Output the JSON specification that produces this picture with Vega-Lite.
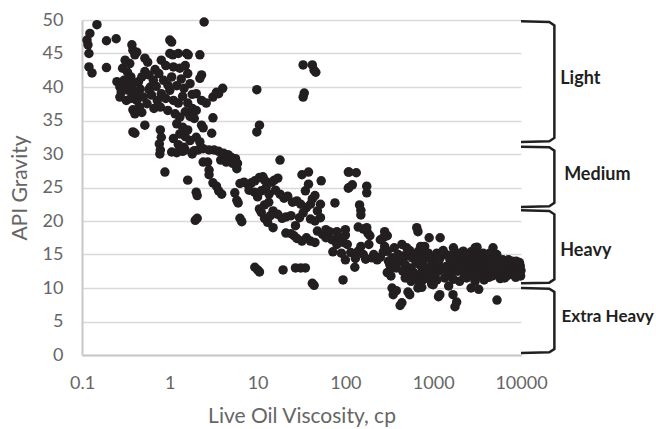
{
  "$schema": "https://vega.github.io/schema/vega-lite/v6.json",
  "width": 439,
  "height": 335,
  "autosize": {"type": "none"},
  "padding": {"left": 82, "top": 20, "right": 135, "bottom": 74},
  "background": "white",
  "config": {"view": {"stroke": null}, "font": "Lato"},
  "datasets": {
    "pts": [
      {"v":0.148,"api":49.3},{"v":0.123,"api":48},{"v":0.114,"api":47},{"v":0.117,"api":46.3},{"v":0.12,"api":45},{"v":0.12,"api":43},{"v":0.13,"api":42.1},{"v":0.19,"api":46.9},{"v":0.245,"api":47.2},{"v":0.19,"api":42.9},
      {"v":0.37,"api":46.3},{"v":0.38,"api":45.5},{"v":0.40,"api":44.8},{"v":0.42,"api":45.2},{"v":0.31,"api":44},{"v":0.29,"api":42.8},{"v":0.33,"api":42.2},{"v":0.35,"api":43.5},{"v":0.25,"api":40.8},{"v":0.27,"api":40},{"v":0.27,"api":38.5},{"v":0.28,"api":39.2},{"v":0.30,"api":41},{"v":0.32,"api":40.3},{"v":0.34,"api":39.5},{"v":0.36,"api":41.5},{"v":0.38,"api":40.5},{"v":0.40,"api":39.3},{"v":0.42,"api":38},{"v":0.44,"api":40.8},{"v":0.46,"api":39.7},{"v":0.48,"api":41.5},{"v":0.50,"api":38.5},{"v":0.52,"api":44.3},{"v":0.56,"api":43.7},{"v":0.52,"api":42.3},{"v":0.58,"api":41.8},{"v":0.60,"api":40},{"v":0.62,"api":38.8},{"v":0.55,"api":37.5},{"v":0.45,"api":37},{"v":0.38,"api":36.6},{"v":0.40,"api":36.0},{"v":0.38,"api":33.3},{"v":0.40,"api":33.1},{"v":0.52,"api":34.3},{"v":0.32,"api":38},{"v":0.36,"api":38.3},{"v":0.44,"api":38.9},{"v":0.48,"api":36.2},{"v":0.58,"api":39.6},{"v":0.65,"api":41},{"v":0.68,"api":42.6},{"v":0.7,"api":40.1},{"v":0.72,"api":38},{"v":0.66,"api":36.8},
      {"v":1.0,"api":47},{"v":1.05,"api":46.7},{"v":1.0,"api":45},{"v":1.08,"api":44.8},{"v":1.25,"api":45},{"v":1.55,"api":45},{"v":1.62,"api":44.8},{"v":2.2,"api":44.8},{"v":0.8,"api":44},{"v":0.9,"api":43.2},{"v":1.1,"api":43},{"v":1.3,"api":42.8},{"v":1.5,"api":43.2},{"v":1.6,"api":42},{"v":2.3,"api":41.8},{"v":2.2,"api":41.3},{"v":0.75,"api":42},{"v":0.85,"api":41},{"v":0.95,"api":40.3},{"v":1.05,"api":41.5},{"v":1.2,"api":40.2},{"v":1.35,"api":41.2},{"v":1.45,"api":39.8},{"v":1.7,"api":40.5},{"v":0.8,"api":39},{"v":0.9,"api":38.3},{"v":1.0,"api":39.5},{"v":1.1,"api":38},{"v":1.25,"api":37.6},{"v":1.4,"api":38.6},{"v":1.6,"api":37.6},{"v":1.8,"api":38.9},{"v":2.0,"api":39},{"v":2.3,"api":38},{"v":2.6,"api":37.6},{"v":3.1,"api":38.5},{"v":3.6,"api":39},{"v":4.0,"api":39.8},{"v":3.4,"api":39.2},{"v":0.78,"api":37},{"v":0.95,"api":36.5},{"v":1.15,"api":36},{"v":1.3,"api":35.5},{"v":1.5,"api":36.3},{"v":1.7,"api":35.6},{"v":1.8,"api":36.8},{"v":2.0,"api":36.5},{"v":1.9,"api":35.3},{"v":1.2,"api":34.5},{"v":1.4,"api":34},{"v":1.6,"api":33.6},{"v":1.3,"api":33},{"v":1.5,"api":32.6},{"v":1.7,"api":32},{"v":1.1,"api":32.3},{"v":1.25,"api":31.4},{"v":1.45,"api":31},{"v":0.78,"api":33.6},{"v":0.8,"api":32.5},{"v":0.76,"api":31.5},{"v":0.78,"api":30.6},{"v":0.77,"api":30},{"v":0.88,"api":27.3},{"v":2.3,"api":34.3},{"v":2.4,"api":33.9},{"v":3.0,"api":33.1},{"v":3.1,"api":35.4},{"v":2.0,"api":32.5},{"v":2.2,"api":31.8},{"v":1.9,"api":30.5},
      {"v":1.05,"api":30.3},{"v":1.2,"api":30.2},{"v":1.4,"api":30.4},{"v":1.5,"api":30.6},{"v":1.8,"api":30},{"v":2.1,"api":30.6},{"v":2.4,"api":30.8},{"v":2.8,"api":30.6},{"v":3.2,"api":30.6},{"v":3.6,"api":30.4},{"v":4.1,"api":30.1},{"v":4.6,"api":29.9},{"v":5.0,"api":29.5},{"v":5.6,"api":29.3},{"v":5.9,"api":28.6},{"v":5.8,"api":27.8},{"v":5.2,"api":28.6},{"v":4.4,"api":28.8},{"v":3.8,"api":29.1},{"v":2.4,"api":28.8},{"v":2.7,"api":28.8},{"v":2.8,"api":27.6},{"v":2.8,"api":26.9},{"v":1.6,"api":26.1},{"v":2.0,"api":24.3},{"v":2.05,"api":23.8},{"v":3.1,"api":25.7},{"v":3.4,"api":25.2},{"v":3.6,"api":24.5},{"v":3.9,"api":24.0},
      {"v":5.5,"api":24.2},{"v":5.8,"api":23.1},{"v":6.0,"api":22.7},{"v":6.3,"api":25.6},{"v":7,"api":25.8},{"v":7.8,"api":25.4},{"v":8.5,"api":25.7},{"v":9.3,"api":26},{"v":10.5,"api":26.5},{"v":11.5,"api":26.6},{"v":12,"api":26.1},{"v":8,"api":24.6},{"v":9.2,"api":24.3},{"v":10,"api":23.6},{"v":11,"api":24.5},{"v":12.5,"api":25},{"v":13.5,"api":24},{"v":14.5,"api":25.8},{"v":15.5,"api":26.1},{"v":17,"api":26.4},{"v":18,"api":29.1},{"v":16,"api":24.6},{"v":18,"api":24.0},{"v":20,"api":23.4},{"v":22,"api":23.7},{"v":25,"api":22.8},{"v":28,"api":23},{"v":31,"api":22.5},{"v":36,"api":22},{"v":40,"api":22.5},{"v":42,"api":23.3},{"v":45,"api":23.8},{"v":48,"api":21.5},{"v":52,"api":22.5},{"v":35,"api":24.5},{"v":38,"api":25.5},{"v":32,"api":26.9},{"v":38,"api":27.3},{"v":53,"api":26},{"v":30,"api":20.5},{"v":33,"api":21.2},{"v":40,"api":20.3},{"v":45,"api":20},{"v":52,"api":20.5},{"v":12,"api":22.4},{"v":13.4,"api":22.8},{"v":11,"api":21.3},{"v":12,"api":20.4},{"v":13,"api":19.8},{"v":15,"api":21.5},{"v":17,"api":21.0},{"v":19,"api":20.4},{"v":21,"api":20.6},{"v":24,"api":20.8},{"v":15,"api":19},{"v":27,"api":19.3},{"v":10.5,"api":21.8},{"v":14,"api":20.8},{"v":6.3,"api":20.4},{"v":6.6,"api":19.9},{"v":1.95,"api":20.1},{"v":2.05,"api":20.4},
      {"v":21,"api":18.2},{"v":24,"api":18.1},{"v":26,"api":17.8},{"v":28,"api":17.4},{"v":32,"api":17.0},{"v":36,"api":17.5},{"v":40,"api":17.0},{"v":45,"api":16.8},{"v":48,"api":18.5},{"v":55,"api":18},{"v":60,"api":18.7},{"v":66,"api":18.4},{"v":80,"api":18.4},{"v":100,"api":18.7},{"v":82,"api":17.6},{"v":100,"api":17.9},{"v":70,"api":17.2},{"v":95,"api":16.8},{"v":105,"api":16.5},
      {"v":9.3,"api":13.1},{"v":10,"api":12.7},{"v":10.5,"api":12.4},{"v":19.5,"api":12.7},{"v":27,"api":13},{"v":31,"api":13},{"v":35,"api":13},{"v":42,"api":10.7},{"v":44,"api":10.4},{"v":94,"api":11.2},
      {"v":76,"api":22.7},{"v":108,"api":27.3},{"v":108,"api":24.9},{"v":110,"api":27.3},{"v":133,"api":27.2},{"v":110,"api":25},{"v":120,"api":25.4},{"v":175,"api":25.2},{"v":175,"api":24.2},{"v":145,"api":22.4},{"v":150,"api":21.6},{"v":150,"api":20.9},{"v":140,"api":19.1},{"v":160,"api":18.8},{"v":175,"api":19},{"v":180,"api":18.2},{"v":190,"api":17.8},{"v":185,"api":16.5},{"v":150,"api":16.2},{"v":72,"api":15.4},{"v":90,"api":15.2},{"v":100,"api":14.2},{"v":128,"api":13.1},{"v":60,"api":17.5},{"v":80,"api":16.5},{"v":140,"api":15.5},{"v":160,"api":15.0},{"v":170,"api":14.3},{"v":200,"api":14.5},{"v":210,"api":15},{"v":230,"api":14.2},{"v":250,"api":14.6},{"v":270,"api":15.4},{"v":280,"api":16.2},{"v":250,"api":17.2},{"v":270,"api":17.5},{"v":280,"api":18.4},{"v":300,"api":17.8},{"v":310,"api":14},{"v":320,"api":13.5},{"v":340,"api":14.5},{"v":360,"api":14.2},{"v":115,"api":15.3},{"v":130,"api":14.4},{"v":300,"api":12.3},{"v":330,"api":11.8},
      {"v":380,"api":13.0},{"v":420,"api":14.0},{"v":450,"api":12.5},{"v":480,"api":13.5},{"v":520,"api":14.8},{"v":560,"api":13},{"v":600,"api":12.3},{"v":640,"api":13.8},{"v":520,"api":12},{"v":480,"api":11.5},{"v":560,"api":11},{"v":650,"api":19},{"v":670,"api":18.4},{"v":720,"api":16.2},{"v":680,"api":15.5},{"v":760,"api":15.5},{"v":800,"api":16.2},{"v":900,"api":17.5},{"v":860,"api":14.5},{"v":700,"api":13.5},{"v":750,"api":12.5},{"v":800,"api":11.8},{"v":900,"api":13},{"v":950,"api":12},{"v":1000,"api":14},
      {"v":340,"api":10},{"v":350,"api":9},{"v":380,"api":9.6},{"v":440,"api":7.8},{"v":420,"api":7.4},{"v":516,"api":9.4},{"v":540,"api":9},{"v":670,"api":10},{"v":740,"api":10.1},{"v":1190,"api":9},{"v":1150,"api":8.7},{"v":1680,"api":9},{"v":1850,"api":7.9},{"v":1770,"api":7.2},{"v":5330,"api":8.2},{"v":1100,"api":11.2},
      {"v":300,"api":15.5},{"v":330,"api":13},{"v":360,"api":16},{"v":400,"api":15},{"v":440,"api":16.5},{"v":470,"api":14.8},{"v":500,"api":16},{"v":540,"api":15.6},{"v":580,"api":14.5},{"v":620,"api":15},{"v":660,"api":14.2},{"v":700,"api":14.8},{"v":740,"api":13.6},{"v":780,"api":14.2},{"v":820,"api":13},{"v":850,"api":12.2},{"v":880,"api":15.2},{"v":920,"api":14.6},{"v":960,"api":13.4},{"v":640,"api":11.6},{"v":700,"api":10.8},{"v":760,"api":11.2},{"v":880,"api":11.4},{"v":960,"api":10.6},
      {"v":1100,"api":13.5},{"v":1150,"api":12.5},{"v":1200,"api":14.5},{"v":1300,"api":13},{"v":1350,"api":11.5},{"v":1400,"api":15},{"v":1500,"api":12},{"v":1600,"api":13.8},{"v":1700,"api":16},{"v":1800,"api":14.5},{"v":1900,"api":12.5},{"v":2000,"api":11},{"v":2100,"api":13.5},{"v":2200,"api":15.5},{"v":2300,"api":12.3},{"v":2500,"api":14},{"v":2700,"api":15.4},{"v":2800,"api":12.8},{"v":3000,"api":16},{"v":3150,"api":16.1},{"v":3200,"api":13.5},{"v":3500,"api":14.6},{"v":3600,"api":12},{"v":3800,"api":11.2},{"v":4000,"api":13},{"v":4200,"api":14.8},{"v":4500,"api":12.5},{"v":4800,"api":16},{"v":5000,"api":13.8},{"v":5500,"api":12},{"v":6000,"api":13.2},{"v":6500,"api":11.5},{"v":7000,"api":12.8},{"v":7500,"api":13.5},{"v":8000,"api":12},{"v":8500,"api":12.8},{"v":9000,"api":13},{"v":9500,"api":12.2},{"v":9800,"api":13.3},{"v":1500,"api":10.3},{"v":2700,"api":10},{"v":3300,"api":9.8},{"v":1200,"api":17.5},{"v":1000,"api":10.5},{"v":1700,"api":11.3},{"v":2400,"api":11.5},{"v":3000,"api":11},
      {"v":1050,"api":12.2},{"v":1100,"api":15.2},{"v":1150,"api":14},{"v":1250,"api":12.8},{"v":1300,"api":15.6},{"v":1400,"api":13.2},{"v":1450,"api":11.8},{"v":1550,"api":14.2},{"v":1600,"api":12.4},{"v":1650,"api":15},{"v":1750,"api":13.2},{"v":1850,"api":13.8},{"v":1950,"api":15.2},{"v":2050,"api":12.8},{"v":2150,"api":14.4},{"v":2250,"api":11.6},{"v":2350,"api":13.2},{"v":2450,"api":15},{"v":2600,"api":12.4},{"v":2650,"api":13.6},{"v":2750,"api":11.8},{"v":2900,"api":14.2},{"v":3050,"api":12.6},{"v":3100,"api":15},{"v":3300,"api":13.2},{"v":3400,"api":11.8},{"v":3550,"api":13.8},{"v":3700,"api":15.2},{"v":3900,"api":12.4},{"v":4100,"api":13.6},{"v":4300,"api":11.6},{"v":4400,"api":15.2},{"v":4600,"api":13.2},{"v":4700,"api":11.8},{"v":4900,"api":14.4},{"v":5200,"api":12.8},{"v":5300,"api":15},{"v":5700,"api":13.6},{"v":5800,"api":11.4},{"v":6200,"api":14.2},{"v":6300,"api":12.2},{"v":6700,"api":13.6},{"v":6900,"api":11.8},{"v":7200,"api":14.2},{"v":7700,"api":12.4},{"v":7900,"api":14},{"v":8200,"api":13},{"v":8700,"api":11.6},{"v":8800,"api":14},{"v":9200,"api":12.2},{"v":9600,"api":13.8},{"v":10000,"api":12.6},{"v":9900,"api":11.8},
      {"v":2.46,"api":49.7},{"v":33,"api":43.3},{"v":42,"api":43.3},{"v":44,"api":42.5},{"v":46,"api":42.2},{"v":33,"api":38.5},{"v":34,"api":39.1},{"v":9.8,"api":39.6},{"v":10.5,"api":34.3},{"v":9.8,"api":33.3}
    ],
    "braces": [
      {"g":"Light","k":1,"v":10000,"api":49.8},{"g":"Light","k":2,"v":21000,"api":49.7},{"g":"Light","k":3,"v":24000,"api":49.2},{"g":"Light","k":4,"v":24000,"api":32.4},{"g":"Light","k":5,"v":21000,"api":31.9},{"g":"Light","k":6,"v":10000,"api":31.8},
      {"g":"Medium","k":1,"v":10000,"api":31.1},{"g":"Medium","k":2,"v":21000,"api":31.0},{"g":"Medium","k":3,"v":24000,"api":30.5},{"g":"Medium","k":4,"v":24000,"api":22.7},{"g":"Medium","k":5,"v":21000,"api":22.2},{"g":"Medium","k":6,"v":10000,"api":22.1},
      {"g":"Heavy","k":1,"v":10000,"api":21.6},{"g":"Heavy","k":2,"v":21000,"api":21.5},{"g":"Heavy","k":3,"v":24000,"api":21.0},{"g":"Heavy","k":4,"v":24000,"api":11.3},{"g":"Heavy","k":5,"v":21000,"api":10.8},{"g":"Heavy","k":6,"v":10000,"api":10.7},
      {"g":"Extra Heavy","k":1,"v":10000,"api":10.0},{"g":"Extra Heavy","k":2,"v":21000,"api":9.9},{"g":"Extra Heavy","k":3,"v":24000,"api":9.4},{"g":"Extra Heavy","k":4,"v":24000,"api":0.9},{"g":"Extra Heavy","k":5,"v":21000,"api":0.4},{"g":"Extra Heavy","k":6,"v":10000,"api":0.3}
    ],
    "labels": [
      {"t":"Light","v":28000,"api":41.2},
      {"t":"Medium","v":31000,"api":26.9},
      {"t":"Heavy","v":28000,"api":15.5},
      {"t":"Extra Heavy","v":29000,"api":5.7}
    ]
  },
  "encoding": {
    "x": {
      "field": "v", "type": "quantitative",
      "scale": {"type": "log", "domain": [0.1, 10000], "nice": false},
      "axis": {
        "values": [0.1, 1, 10, 100, 1000, 10000],
        "format": "~g",
        "grid": false, "ticks": false, "labelOverlap": false, "labelFlush": false,
        "domainColor": "#c8c8c8", "domainWidth": 2,
        "labelFont": "Lato", "labelFontSize": 18, "labelColor": "#666666", "labelPadding": 19,
        "title": "Live Oil Viscosity, cp", "titleFont": "Lato", "titleFontSize": 21, "titleFontWeight": "normal",
        "titleColor": "#666666", "titlePadding": 13
      }
    },
    "y": {
      "field": "api", "type": "quantitative",
      "scale": {"domain": [0, 50], "nice": false},
      "axis": {
        "values": [0, 5, 10, 15, 20, 25, 30, 35, 40, 45, 50],
        "grid": true, "gridColor": "#d9d9d9", "gridWidth": 1.5,
        "ticks": false, "labelOverlap": false, "labelFlush": false,
        "domainColor": "#c8c8c8", "domainWidth": 2,
        "labelFont": "Lato", "labelFontSize": 18, "labelColor": "#666666", "labelPadding": 19,
        "title": "API Gravity", "titleFont": "Lato", "titleFontSize": 21, "titleFontWeight": "normal",
        "titleColor": "#666666", "titlePadding": 12
      }
    }
  },
  "layer": [
    {
      "data": {"name": "pts"},
      "mark": {"type": "circle", "size": 90, "opacity": 1, "color": "#231f20"}
    },
    {
      "data": {"name": "braces"},
      "mark": {"type": "line", "color": "#231f20", "strokeWidth": 2.5, "clip": false},
      "encoding": {
        "detail": {"field": "g"},
        "order": {"field": "k"}
      }
    },
    {
      "data": {"name": "labels"},
      "transform": [{"filter": "datum.t !== 'Extra Heavy'"}],
      "mark": {"type": "text", "align": "left", "baseline": "middle", "fontWeight": "bold", "fontSize": 18, "color": "#231f20", "font": "Lato"},
      "encoding": {"text": {"field": "t"}}
    },
    {
      "data": {"name": "labels"},
      "transform": [{"filter": "datum.t === 'Extra Heavy'"}],
      "mark": {"type": "text", "align": "left", "baseline": "middle", "fontWeight": "bold", "fontSize": 17, "color": "#231f20", "font": "Lato"},
      "encoding": {"text": {"field": "t"}}
    }
  ]
}
